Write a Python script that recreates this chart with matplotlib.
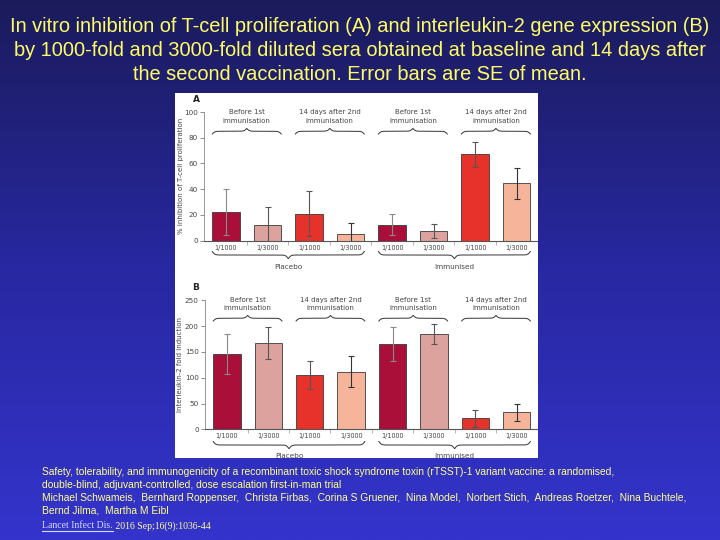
import numpy as np
import matplotlib
matplotlib.use("Agg")
import matplotlib.pyplot as plt
from matplotlib.patches import Rectangle
from matplotlib.colors import LinearSegmentedColormap

# ---------------- data ----------------
categories = ['1/1000', '1/3000', '1/1000', '1/3000', '1/1000', '1/3000', '1/1000', '1/3000']
timepoints = ['Before 1st\nimmunisation', '14 days after 2nd\nimmunisation',
              'Before 1st\nimmunisation', '14 days after 2nd\nimmunisation']
arms = ['Placebo', 'Immunised']
a_values = [22.5, 12.5, 21, 5.5, 12.5, 7.5, 67, 44.5]
a_errors = [18, 14, 17.5, 8, 8, 5.5, 10, 12]
b_values = [146, 167, 105, 112, 165, 185, 21, 33]
b_errors = [39, 31, 27, 29.5, 33, 19, 17, 16]
a_ticks = [0, 20, 40, 60, 80, 100]
b_ticks = [0, 50, 100, 150, 200, 250]
a_ylabel = '% inhibition of T-cell proliferation'
b_ylabel = 'Interleukin-2 fold induction'

title_lines = ['In vitro inhibition of T-cell proliferation (A) and interleukin-2 gene expression (B)',
               'by 1000-fold and 3000-fold diluted sera obtained at baseline and 14 days after',
               'the second vaccination. Error bars are SE of mean.']
cite_lines = ['Safety, tolerability, and immunogenicity of a recombinant toxic shock syndrome toxin (rTSST)-1 variant vaccine: a randomised,',
              'double-blind, adjuvant-controlled, dose escalation first-in-man trial',
              'Michael Schwameis,  Bernhard Roppenser,  Christa Firbas,  Corina S Gruener,  Nina Model,  Norbert Stich,  Andreas Roetzer,  Nina Buchtele,',
              'Bernd Jilma,  Martha M Eibl']
journal = 'Lancet Infect Dis.'
journal_rest = ' 2016 Sep;16(9):1036-44'

# ---------------- style ----------------
W, H = 720, 540
bar_colors = ['#a90f38', '#dba29e', '#e6322a', '#f6b59b'] * 2
err_colors = ['#8a8a8a', '#555555', '#555555', '#333333'] * 2
text_gray = '#444444'
yellow = '#ffff66'

fig = plt.figure(figsize=(7.2, 5.4), dpi=100)

# gradient background
bg = fig.add_axes([0, 0, 1, 1], zorder=-10)
cmap = LinearSegmentedColormap.from_list('bg', ['#1b1b5c', '#2828a2', '#3434cc'])
grad = np.linspace(0, 1, 256).reshape(-1, 1)
bg.imshow(grad, aspect='auto', cmap=cmap, extent=[0, 1, 0, 1], origin='upper')
bg.set_axis_off()

# white figure panel
panel = Rectangle((174.5 / W, 1 - 457.5 / H), (537.5 - 174.5) / W, (457.5 - 93) / H,
                  transform=fig.transFigure, facecolor='white', edgecolor='none', zorder=-5)
fig.patches.append(panel)


def px_axes(l, t, r, b):
    return [l / W, 1 - b / H, (r - l) / W, (b - t) / H]


def brace(ax, x0, x1, y_end, height, up, top, bot, width_px):
    n = 400
    t = np.linspace(0, 1, n)
    half = t[:n // 2]
    beta = 0.8 * width_px
    yh = 1 / (1 + np.exp(-beta * (half - half[0]))) + 1 / (1 + np.exp(-beta * (half - half[-1])))
    y = np.concatenate([yh, yh[::-1]]) - 0.5
    xs = x0 + (x1 - x0) * t
    sign = 1 if up else -1
    ypx = y_end - sign * height * y
    yf = (bot - ypx) / (bot - top)
    ax.plot(xs, yf, transform=ax.get_xaxis_transform(), color='#333333', lw=0.7, clip_on=False)


bw = 0.66
x = np.arange(len(categories))


def panel_plot(box, values, errors, ticks, ylabel, letter, letter_xy,
               tp_text_y, top_brace, bot_brace, arm_text_y):
    l, t, r, b = box
    ax = fig.add_axes(px_axes(l, t, r, b))
    ax.set_facecolor('none')
    for i in range(len(values)):
        ax.bar(x[i], values[i], width=bw, color=bar_colors[i], edgecolor='#3a3a3a', linewidth=0.6, zorder=2)
        ax.errorbar(x[i], values[i], yerr=errors[i], color=err_colors[i], lw=0.8,
                    capsize=2.0, capthick=0.8, zorder=3)
    ax.set_xlim(-0.53, 7.49)
    ax.set_ylim(0, ticks[-1])
    ax.set_yticks(ticks)
    ax.set_yticklabels([str(v) for v in ticks])
    ax.set_xticks(x)
    ax.set_xticklabels(categories)
    ax.set_xticks(np.arange(0.5, 7.0, 1.0), minor=True)
    ax.tick_params(axis='x', which='major', length=0, pad=3, labelsize=4.7, labelcolor=text_gray)
    ax.tick_params(axis='x', which='minor', length=3, width=0.5, color='#999999', direction='out')
    ax.tick_params(axis='y', length=3, width=0.6, color='#777777', pad=1.5, labelsize=5.2, labelcolor=text_gray)
    for s in ['top', 'right']:
        ax.spines[s].set_visible(False)
    ax.spines['left'].set_color('#888888')
    ax.spines['bottom'].set_color('#555555')
    ax.spines['left'].set_linewidth(0.6)
    ax.spines['bottom'].set_linewidth(0.8)
    ax.set_ylabel(ylabel, fontsize=5.0, color=text_gray)
    ax.yaxis.set_label_coords((183.5 - l) / (r - l), 0.5)

    def yf(ypx):
        return (b - ypx) / (b - t)

    for g, txt in enumerate(timepoints):
        x0 = 2 * g - bw / 2
        x1 = 2 * g + 1 + bw / 2
        brace(ax, x0, x1, top_brace, 5.5, True, t, b, 68)
        ax.text((x0 + x1) / 2, yf(tp_text_y), txt, transform=ax.get_xaxis_transform(),
                ha='center', va='center', fontsize=5.0, color=text_gray, linespacing=1.45, clip_on=False)
    for a, txt in enumerate(arms):
        x0 = 4 * a - bw / 2
        x1 = 4 * a + 3 + bw / 2
        brace(ax, x0, x1, bot_brace, 7, False, t, b, 152)
        tt = ax.text((x0 + x1) / 2, yf(arm_text_y), txt, transform=ax.get_xaxis_transform(),
                     ha='center', va='center', fontsize=5.2, color=text_gray, clip_on=True)
        tt.set_clip_path(panel)
    fig.text(letter_xy[0] / W, 1 - letter_xy[1] / H, letter, fontsize=6.5, fontweight='bold',
             color='#222222', ha='center', va='center')
    return ax


panel_plot((204, 112, 537, 240.7), a_values, a_errors, a_ticks, a_ylabel, 'A', (196, 99),
           116.5, 134, 251.5, 266.7)
panel_plot((205, 300.3, 537, 429.3), b_values, b_errors, b_ticks, b_ylabel, 'B', (195.5, 287.5),
           304, 321, 441.5, 456)

# title
for ypos, line in zip([27, 50.5, 74], title_lines):
    fig.text(0.5, 1 - ypos / H, line, ha='center', va='center', fontsize=14.4,
             family='Liberation Sans', color=yellow)

# citation
for ypos, line in zip([472, 485, 498, 510.5], cite_lines):
    fig.text(42 / W, 1 - ypos / H, line, ha='left', va='center', fontsize=7.35,
             family='Liberation Sans', color='#ffff88')

jt = fig.text(42 / W, 1 - 526 / H, journal, ha='left', va='center', fontsize=7.0,
              family='Liberation Serif', color='#d8d8ff')
fig.canvas.draw()
renderer = fig.canvas.get_renderer()
ext = jt.get_window_extent(renderer)
fig.text(ext.x1 / W, 1 - 526 / H, journal_rest, ha='left', va='center', fontsize=7.0,
         family='Liberation Serif', color='#ffff99')
fig.add_artist(plt.Line2D([ext.x0 / W, ext.x1 / W], [(ext.y0 - 0.5) / H] * 2,
                          transform=fig.transFigure, color='#d8d8ff', lw=0.8))

fig.savefig('out.png', dpi=100)
